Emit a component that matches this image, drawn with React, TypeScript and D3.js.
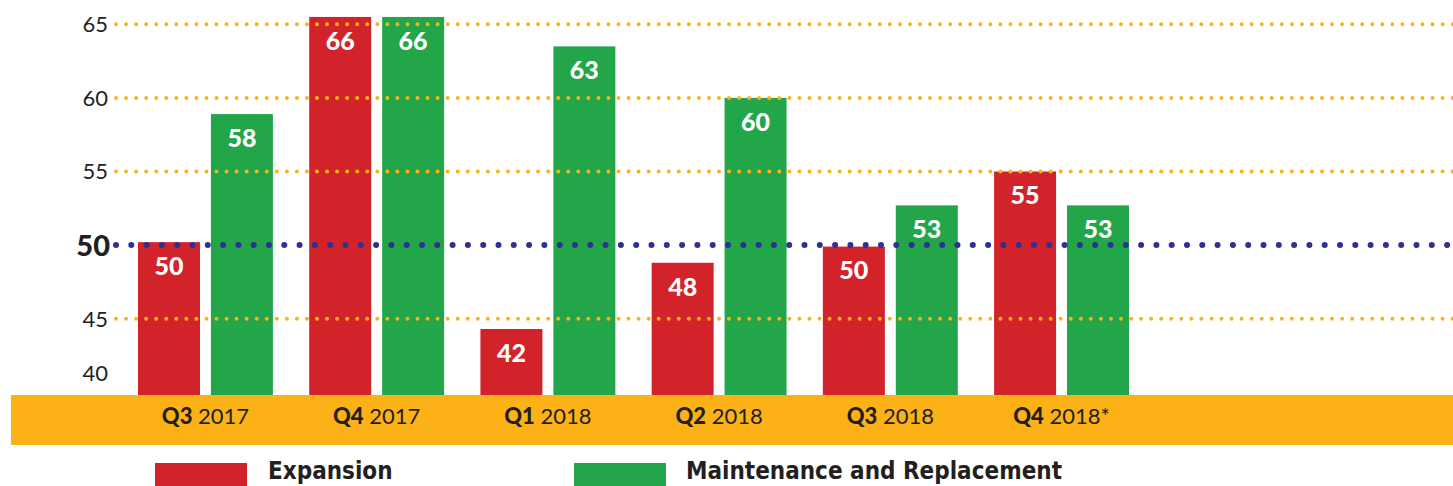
import React from "react";
import * as d3 from "d3";

// ---- data ----
const categories = ["Q3 2017", "Q4 2017", "Q1 2018", "Q2 2018", "Q3 2018", "Q4 2018*"];
const seriesNames = ["Expansion", "Maintenance and Replacement"];
// bar heights as drawn in the picture
const expansionHeights = [50.2, 65.5, 44.3, 48.8, 49.9, 55.0];
const maintenanceHeights = [58.9, 65.5, 63.5, 60.0, 52.7, 52.7];
// values printed on the bars
const expansionLabels = [50, 66, 42, 48, 50, 55];
const maintenanceLabels = [58, 66, 63, 60, 53, 53];
const yTicks = [40, 45, 50, 55, 60, 65];
const referenceValue = 50;

const W = 1453;
const H = 486;
const COLORS = { red: "#D2232A", green: "#23A64A", orange: "#FCB216", blue: "#2E3192", text: "#231F20" };

export default function App() {
  const bandTop = 395;
  const bandBottom = 445;
  const y = d3.scaleLinear().domain([45, 65]).range([318.7, 24.3]);
  const x0 = d3.scaleBand<string>().domain(categories).range([138, 1129]).paddingInner(0.212).paddingOuter(0);
  const x1 = d3.scaleBand<number>().domain([0, 1]).range([0, x0.bandwidth()]).paddingInner(0.15).paddingOuter(0);
  const colors = [COLORS.red, COLORS.green];
  const heights = [expansionHeights, maintenanceHeights];
  const labels = [expansionLabels, maintenanceLabels];
  const gridX0 = 116;
  const legendFont = "'DejaVu Sans Condensed', 'DejaVu Sans', sans-serif";

  return (
    <svg width={W} height={H} style={{ position: "absolute", left: 0, top: 0, display: "block" }} fontFamily="Lato, 'Open Sans', sans-serif">
      <rect x={0} y={0} width={W} height={H} fill="#fff" />
      {/* bars */}
      {categories.map((c, i) => (
        <g key={c} transform={`translate(${x0(c)},0)`}>
          {[0, 1].map((s) => (
            <rect key={s} x={x1(s)} y={y(heights[s][i])} width={x1.bandwidth()} height={bandTop - y(heights[s][i])} fill={colors[s]} />
          ))}
        </g>
      ))}
      {/* gridlines */}
      {yTicks.filter((t) => t !== 40 && t !== referenceValue).map((t) => (
        <line key={t} x1={gridX0} x2={W} y1={y(t)} y2={y(t)} stroke={COLORS.orange} strokeWidth={4} strokeLinecap="round" strokeDasharray="0 10.05" />
      ))}
      <line x1={gridX0} x2={W} y1={y(referenceValue)} y2={y(referenceValue)} stroke={COLORS.blue} strokeWidth={6} strokeLinecap="round" strokeDasharray="0 15.3" />
      {/* bar value labels */}
      {categories.map((c, i) => (
        <g key={c} transform={`translate(${x0(c)},0)`}>
          {[0, 1].map((s) => (
            <text key={s} x={(x1(s) as number) + x1.bandwidth() / 2} y={y(heights[s][i]) + 24} dy="0.35em" textAnchor="middle" fill="#fff" fontWeight={900} fontSize={25}>
              {labels[s][i]}
            </text>
          ))}
        </g>
      ))}
      {/* y tick labels */}
      {yTicks.map((t) => (
        <text key={t} x={t === referenceValue ? 110 : 108} y={Math.min(y(t), bandTop - 22)} dy="0.36em" textAnchor="end" fill={COLORS.text}
          fontSize={t === referenceValue ? 29 : 22} fontWeight={t === referenceValue ? 900 : 400}>
          {t}
        </text>
      ))}
      {/* category band */}
      <rect x={11} y={bandTop} width={W - 11} height={bandBottom - bandTop} fill={COLORS.orange} />
      {categories.map((c) => {
        const [q, ...rest] = c.split(" ");
        return (
          <text key={c} x={(x0(c) as number) + x0.bandwidth() / 2} y={424} textAnchor="middle" fill={COLORS.text} fontSize={22}>
            <tspan fontWeight={900}>{q}</tspan>
            <tspan fontWeight={400}>{" " + rest.join(" ")}</tspan>
          </text>
        );
      })}
      {/* legend */}
      <rect x={155} y={463} width={92} height={30} fill={COLORS.red} />
      <text x={268} y={479} fill={COLORS.text} fontSize={24} fontWeight={700} fontFamily={legendFont} fontStretch="condensed">{seriesNames[0]}</text>
      <rect x={574} y={463} width={92} height={30} fill={COLORS.green} />
      <text x={686} y={479} fill={COLORS.text} fontSize={24} fontWeight={700} fontFamily={legendFont} fontStretch="condensed">{seriesNames[1]}</text>
    </svg>
  );
}
